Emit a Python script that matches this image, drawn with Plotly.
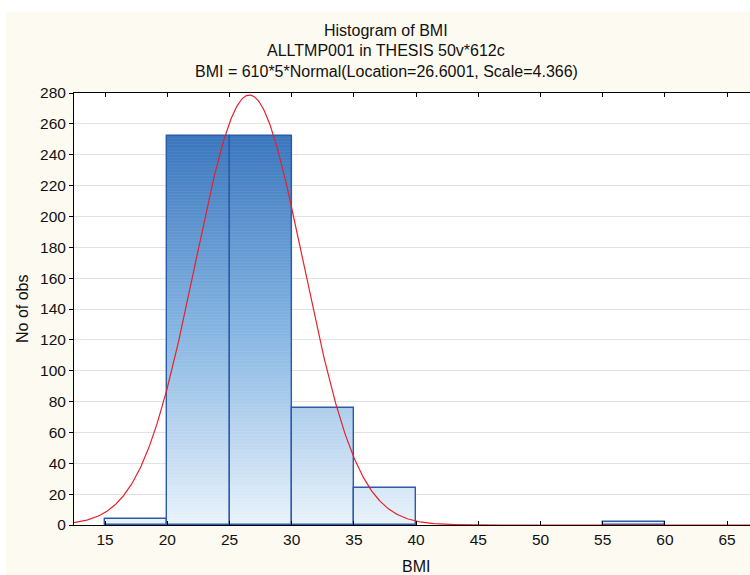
import numpy as np
import plotly.graph_objects as go

# ---- data ----
bin_left = [15, 20, 25, 30, 35, 55]
bin_width = 5
counts = [4, 252, 252, 76, 24, 2]
x_ticks = [15, 20, 25, 30, 35, 40, 45, 50, 55, 60, 65]
y_ticks = list(range(0, 281, 20))

# fitted normal curve as stated in the title: BMI = 610*5*Normal(26.6001, 4.366)
n_obs = 610
fit_loc = 26.6001
fit_scale = 4.366

x_range = [12.5, 66.84]
centers = [b + bin_width / 2 for b in bin_left]

FONT = "Liberation Sans, Arial, sans-serif"
TICK_SIZE = 15.5
TITLE_SIZE = 16

# gradient colours (bottom -> mid -> top)
c_bot = np.array([233, 243, 251])
c_mid = np.array([135, 182, 227])
c_top = np.array([59, 119, 190])
top_val = max(counts)


def grad(v):
    t = min(max(v / top_val, 0), 1)
    if t < 0.5:
        c = c_bot + (c_mid - c_bot) * (t / 0.5)
    else:
        c = c_mid + (c_top - c_mid) * ((t - 0.5) / 0.5)
    return "rgb(%d,%d,%d)" % tuple(np.round(c).astype(int))


fig = go.Figure()

# gradient fill: bands drawn through bar traces (only where the bar reaches)
step = 2
nb = int(np.ceil(top_val / step))
for k in range(nb):
    base = k * step
    xs, hs = [], []
    for xcen, c in zip(centers, counts):
        h = min(step, c - base)
        if h > 0:
            xs.append(xcen)
            hs.append(h)
    if not xs:
        continue
    col = grad(base + step / 2)
    fig.add_trace(go.Bar(
        x=xs, y=hs, base=[base] * len(xs), width=bin_width,
        marker=dict(color=col, line=dict(color=col, width=0.6)),
        showlegend=False, hoverinfo="skip"))

# outlines
fig.add_trace(go.Bar(
    x=centers, y=counts, width=bin_width,
    marker=dict(color="rgba(0,0,0,0)", line=dict(color="#2C5BA8", width=1.4)),
    showlegend=False))

# fitted normal curve
xc = np.linspace(x_range[0], x_range[1], 800)
yc = n_obs * bin_width * np.exp(-0.5 * ((xc - fit_loc) / fit_scale) ** 2) / (fit_scale * np.sqrt(2 * np.pi))
fig.add_trace(go.Scatter(x=xc, y=yc, mode="lines",
                         line=dict(color="#E8202A", width=1.2),
                         showlegend=False, cliponaxis=True))

L, T, B = 74, 93, 50
W, H = 750, 575
pw, ph = W - L, H - T - B


def px_x(p):
    return (p - L) / pw


def px_y(p):
    return (H - B - p) / ph


shapes = [
    dict(type="rect", xref="paper", yref="paper", x0=px_x(6), x1=px_x(760),
         y0=px_y(585), y1=px_y(12), fillcolor="#FDFAF1", line=dict(width=0), layer="below"),
    dict(type="rect", xref="paper", yref="paper", x0=0, x1=1, y0=0, y1=1,
         fillcolor="white", line=dict(width=0), layer="below"),
]

titles = ["Histogram of BMI", "ALLTMP001 in THESIS 50v*612c",
          "BMI = 610*5*Normal(Location=26.6001, Scale=4.366)"]
title_y = [30, 51, 72]
annotations = []
for t, yy in zip(titles, title_y):
    annotations.append(dict(text=t, xref="paper", yref="paper", x=px_x(386), y=px_y(yy),
                            xanchor="center", yanchor="middle", showarrow=False,
                            font=dict(family=FONT, size=TITLE_SIZE, color="#111")))
annotations.append(dict(text="No of obs", xref="paper", yref="paper", x=px_x(22), y=0.5,
                        textangle=-90, xanchor="center", yanchor="middle", showarrow=False,
                        font=dict(family=FONT, size=TITLE_SIZE, color="#111")))
annotations.append(dict(text="BMI", xref="paper", yref="paper", x=px_x(416), y=px_y(566),
                        xanchor="center", yanchor="middle", showarrow=False,
                        font=dict(family=FONT, size=TITLE_SIZE, color="#111")))

fig.update_layout(
    width=W, height=H,
    margin=dict(l=L, r=0, t=T, b=B, pad=0),
    paper_bgcolor="white", plot_bgcolor="white",
    barmode="overlay", bargap=0,
    shapes=shapes, annotations=annotations,
    font=dict(family=FONT, size=TICK_SIZE, color="#111"),
    xaxis=dict(range=x_range, tickvals=x_ticks, ticks="inside", ticklen=4,
               tickcolor="black", showline=True, linecolor="black", linewidth=1,
               mirror="ticks", showgrid=False, zeroline=False,
               tickfont=dict(family=FONT, size=TICK_SIZE, color="#111")),
    yaxis=dict(range=[0, 280], tickvals=y_ticks, ticks="outside", ticklen=4,
               tickcolor="black", showline=True, linecolor="black", linewidth=1,
               showgrid=True, gridcolor="#E2E2E2", gridwidth=1, zeroline=False,
               tickfont=dict(family=FONT, size=TICK_SIZE, color="#111")),
)

fig.write_html("out.html")
